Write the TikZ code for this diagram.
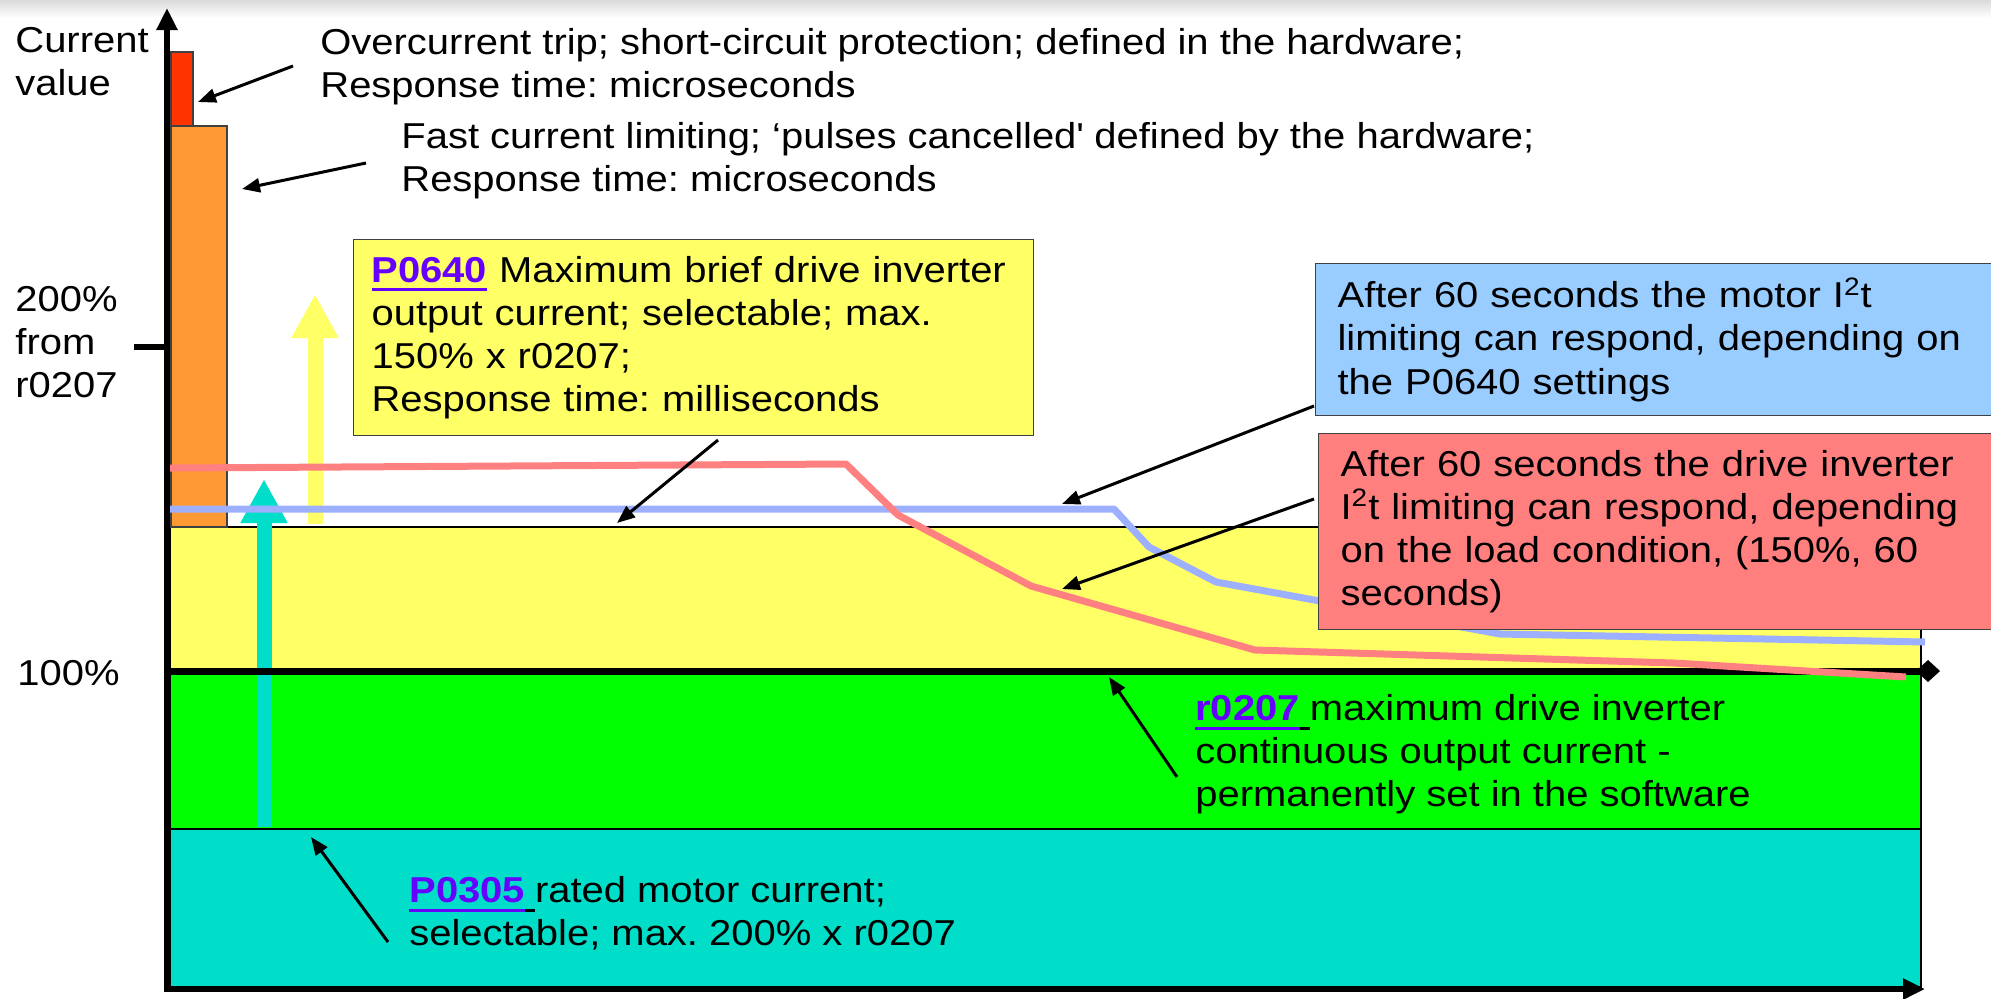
\documentclass[tikz,border=0pt]{standalone}
\usepackage{fontspec}
\setmainfont{Liberation Sans}[FakeStretch=1.11]
\usetikzlibrary{arrows.meta, positioning}
\definecolor{TripRed}{HTML}{FF3300}
\definecolor{LimitOrange}{HTML}{FF9933}
\definecolor{BandYellow}{HTML}{FFFF66}
\definecolor{BandGreen}{HTML}{00FF00}
\definecolor{BandTeal}{HTML}{00DDC8}
\definecolor{CurvePink}{HTML}{FF8080}
\definecolor{CurveBlue}{HTML}{9DB0FF}
\definecolor{NoteBlue}{HTML}{99CCFF}
\definecolor{NoteRed}{HTML}{FF7F7F}
\definecolor{ParamViolet}{HTML}{6600FF}
\colorlet{NoteYellow}{BandYellow}
\colorlet{BoxEdge}{black!75}
\newcommand{\param}[1]{\textcolor{ParamViolet}{\bfseries\setbox0\hbox{#1}\rlap{\rule[-4.5pt]{\wd0}{1.5pt}}\box0}}
\newcommand{\ulgap}{\rule[-4.5pt]{0.28em}{1.5pt}}
\frenchspacing

\begin{document}
\begin{tikzpicture}[x=0.5pt, y=-0.5pt,
    font=\fontsize{18}{21.6}\selectfont,
    pointer/.style={-{Triangle[length=9pt, width=7pt]}, line width=1.5pt},
    notetext/.style={anchor=north west, align=left, inner sep=0pt},
    infobox/.style={draw=BoxEdge, line width=0.6pt, anchor=north west, align=left, inner xsep=11pt}]

    \useasboundingbox (0,0) rectangle (1991,998);

    % Top edge
    \shade[top color=black!14, bottom color=white] (0,0) rectangle (1991,18);

    % Bands
    \filldraw[fill=BandTeal, draw=black, line width=0.6pt] (170,829) rectangle (1921,987);
    \filldraw[fill=BandGreen, draw=black, line width=0.6pt] (170,671) rectangle (1921,829);
    \filldraw[fill=BandYellow, draw=black, line width=0.6pt] (170,527) rectangle (1921,671);

    % Hardware bars
    \filldraw[fill=TripRed, draw=BoxEdge, line width=0.6pt] (171,52) rectangle (193,126);
    \filldraw[fill=LimitOrange, draw=BoxEdge, line width=0.6pt] (171,126) rectangle (227,527);

    % Block arrows
    \draw[BandTeal, line width=7.5pt, -{Triangle[length=22pt, width=22pt]}] (264,827) -- (264,479);
    \draw[BandYellow, line width=7.5pt, -{Triangle[length=22pt, width=22pt]}] (315,524) -- (315,294);

    % 100% line
    \draw[line width=3.5pt, -{Diamond[length=12pt, width=11pt]}] (167,671) -- (1940,671);

    % I2t curves
    \draw[CurveBlue, line width=3.5pt, line join=round]
        (170,509) -- (1114,509) -- (1149,547) -- (1216,582) -- (1500,634) -- (1925,642);
    \draw[CurvePink, line width=3.5pt, line join=round]
        (170,468) -- (846,464) -- (898,515) -- (1031,586) -- (1255,650) -- (1674,663) -- (1906,677);

    % Axes
    \draw[line width=3pt, {Triangle[length=11pt, width=10pt]}-{Triangle[length=11pt, width=10pt]}]
        (167,8) -- (167,989) -- (1925,989);
    \draw[line width=3pt] (134,347) -- (167,347);

    % Axis labels
    \node[notetext] (curlabel) at (15,27) {Current\\value};
    \node[notetext] (twohundred) at (15,286) {200\%\\from\\r0207};
    \node[notetext] (hundred) at (17,660) {100\%};

    % Hardware notes
    \node[notetext] (tripnote) at (320,28) {Overcurrent trip; short-circuit protection; defined in the hardware;\\Response time: microseconds};
    \node[notetext] (fastnote) at (401,122) {Fast current limiting; ‘pulses cancelled\textquotesingle\ defined by the hardware;\\Response time: microseconds};

    % Boxed notes
    \node[infobox, fill=NoteYellow, inner xsep=9pt, text width=322pt, minimum height=98pt] (p0640) at (353,239)
        {\param{P0640} Maximum brief drive inverter\\output current; selectable; max.\\150\% x r0207;\\Response time: milliseconds};
    \node[infobox, fill=NoteBlue, text width=323pt, minimum height=76pt] (motornote) at (1315,263)
        {After 60 seconds the motor I\textsuperscript{2}t\\limiting can respond, depending on\\the P0640 settings};
    \node[infobox, fill=NoteRed, text width=323pt, minimum height=98pt] (invnote) at (1318,433)
        {After 60 seconds the drive inverter\\I\textsuperscript{2}t limiting can respond, depending\\on the load condition, (150\%, 60\\seconds)};

    % Band notes
    \node[notetext] (r0207note) at (1195,694) {\param{r0207}\ulgap maximum drive inverter\\continuous output current -\\permanently set in the software};
    \node[notetext] (p0305note) at (409,876) {\param{P0305}\ulgap rated motor current;\\selectable; max. 200\% x r0207};

    % Pointers
    \coordinate (tripfrom) at (293,66);   \coordinate (tripto) at (198,102);
    \coordinate (fastfrom) at (366,163);  \coordinate (fastto) at (242,189);
    \coordinate (briefto) at (617,523);   \coordinate (brieffrom) at (718,440);
    \coordinate (motorfrom) at (1314,406); \coordinate (motorto) at (1062,504);
    \coordinate (invfrom) at (1314,499);  \coordinate (invto) at (1062,589);
    \coordinate (ratedfrom) at (1177,777); \coordinate (ratedto) at (1109,677);
    \coordinate (motorcurfrom) at (388,942); \coordinate (motorcurto) at (311,837);
    \foreach \a/\b in {tripfrom/tripto, fastfrom/fastto, brieffrom/briefto, motorfrom/motorto,
                       invfrom/invto, ratedfrom/ratedto, motorcurfrom/motorcurto}
        \draw[pointer] (\a) -- (\b);

\end{tikzpicture}
\end{document}
